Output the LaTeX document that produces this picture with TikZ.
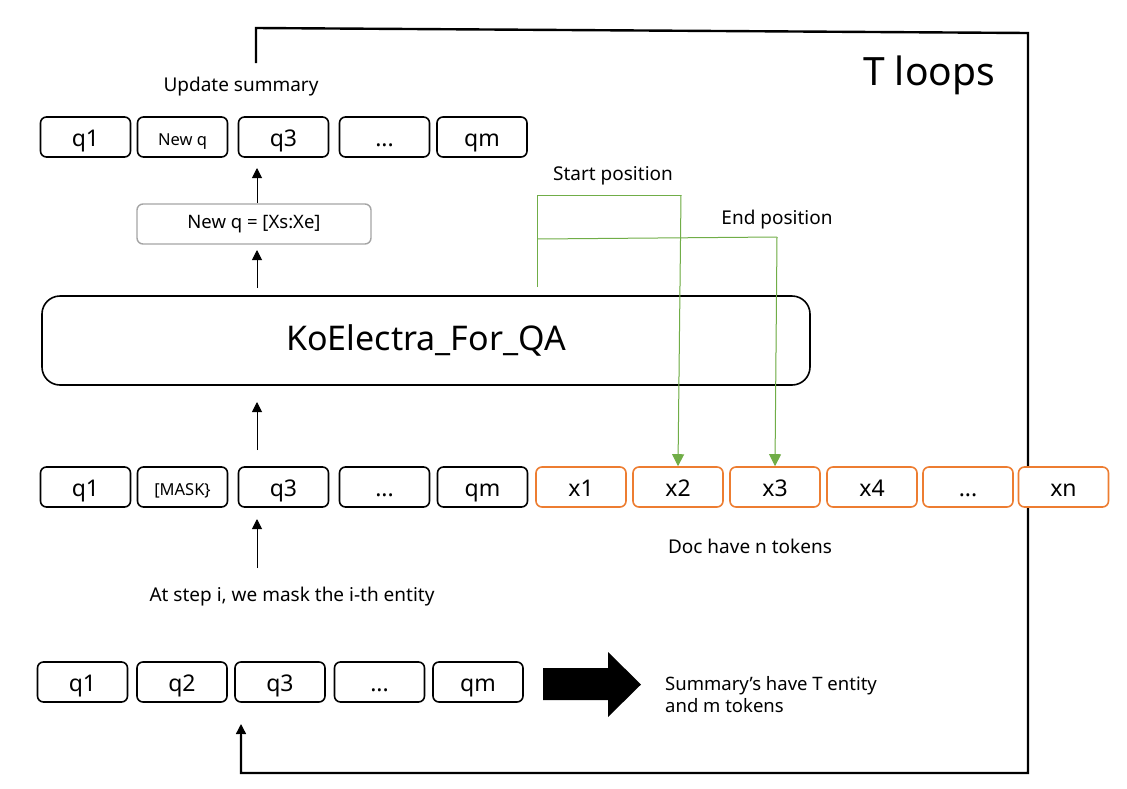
\documentclass[tikz,border=0pt]{standalone}
\usepackage{fontspec}
\setmainfont{Noto Sans}
\usetikzlibrary{arrows.meta}
\definecolor{orng}{RGB}{237,125,49}
\definecolor{grn}{RGB}{112,173,71}
\definecolor{gry}{RGB}{165,165,165}
\begin{document}
\begin{tikzpicture}[x=1pt,y=-1pt,
  tok/.style={draw=black,fill=white,line width=1.6pt,rounded corners=6pt,minimum width=90pt,minimum height=40pt,inner sep=0pt,text height=20pt,text depth=1pt,font=\fontsize{23}{24}\selectfont},
  doc/.style={tok,draw=orng},
  small/.style={font=\fontsize{16.5}{18}\selectfont,text height=17pt,text depth=1pt},
  lbl/.style={font=\fontsize{19}{22}\selectfont,inner sep=0pt},
  arr/.style={-{Triangle[length=10pt,width=10pt]},line width=1pt},
  garr/.style={draw=grn,line width=1pt,-{Triangle[length=12pt,width=12pt]},fill=grn}
]
\useasboundingbox (0,0) rectangle (1127,788);
% loop line
\coordinate (l0) at (256,63);
\coordinate (l1) at (256,28);
\coordinate (l2) at (1028,33);
\coordinate (l3) at (1028,773);
\coordinate (l4) at (241,773);
\coordinate (l5) at (241,724);
\draw[line width=2.4pt] (l0) -- (l1) -- (l2) -- (l3) -- (l4) -- (241,735);
\draw[arr,line width=1.4pt] (241,740) -- (l5);
% top row
\node[tok] (t1) at (85.5,137) {q1};
\node[tok,small] (t2) at (182.5,137) {New q};
\node[tok] (t3) at (283.5,137) {q3};
\node[tok] (t4) at (384.5,137) {...};
\node[tok] (t5) at (482,137) {qm};
\node[lbl] (upd) at (241,87) {Update summary};
% new q box
\node[draw=gry,fill=white,line width=1.4pt,rounded corners=6pt,minimum width=234pt,minimum height=40pt,inner sep=0pt,font=\fontsize{18.5}{20}\selectfont] (nq) at (254,224) {New q = [Xs:Xe]};
% model
\node[draw,fill=white,line width=1.6pt,rounded corners=18pt,minimum width=768pt,minimum height=89pt,font=\fontsize{34}{38}\selectfont] (ko) at (426,340.5) {KoElectra\_For\_QA};
% middle row
\node[tok] (m1) at (85.5,487) {q1};
\node[tok,small] (m2) at (182.5,487) {[MASK\}};
\node[tok] (m3) at (283.5,487) {q3};
\node[tok] (m4) at (384.5,487) {...};
\node[tok] (m5) at (482.5,487) {qm};
\node[doc] (x1) at (581,487) {x1};
\node[doc] (x2) at (678,487) {x2};
\node[doc] (x3) at (775,487) {x3};
\node[doc] (x4) at (872,487) {x4};
\node[doc] (x5) at (968,487) {...};
\node[doc] (x6) at (1063.5,487) {xn};
\node[lbl] (doclbl) at (750,546) {Doc have n tokens};
\node[lbl] (step) at (292,597) {At step i, we mask the i-th entity};
% bottom row
\node[tok] (b1) at (82.5,682) {q1};
\node[tok] (b2) at (182,682) {q2};
\node[tok] (b3) at (280,682) {q3};
\node[tok] (b4) at (379.5,682) {...};
\node[tok] (b5) at (478,682) {qm};
\fill[black] (543,668) -- (608,668) -- (608,652) -- (641,684.5) -- (608,717) -- (608,700) -- (543,700) -- cycle;
\node[lbl,anchor=west,align=left,font=\fontsize{18.5}{22}\selectfont] (summ) at (665,695) {Summary’s have T entity\\and m tokens};
% T loops
\node[font=\fontsize{39}{42}\selectfont,inner sep=0pt] (tl) at (929,75) {T loops};
% black arrows
\coordinate (a1s) at (257,203);
\coordinate (a1e) at (257,168);
\draw[arr] (a1s) -- (a1e);
\coordinate (a2s) at (257,288);
\coordinate (a2e) at (257,250);
\draw[arr] (a2s) -- (a2e);
\coordinate (a3s) at (257,450);
\coordinate (a3e) at (257,402);
\draw[arr] (a3s) -- (a3e);
\coordinate (a4s) at (257,568);
\coordinate (a4e) at (257,519);
\draw[arr] (a4s) -- (a4e);
% green
\coordinate (g0) at (537,287);
\coordinate (g1) at (537,195);
\coordinate (g2) at (537,239);
\draw[grn,line width=1pt] (g0) -- (g1) -- (681,195);
\draw[garr] (681,195) -- (x2.north);
\draw[grn,line width=1pt] (g2) -- (777,237);
\draw[garr] (777,237) -- (x3.north);
\node[lbl] (sp) at (613,176) {Start position};
\node[lbl] (ep) at (777,220) {End position};
\end{tikzpicture}
\end{document}
